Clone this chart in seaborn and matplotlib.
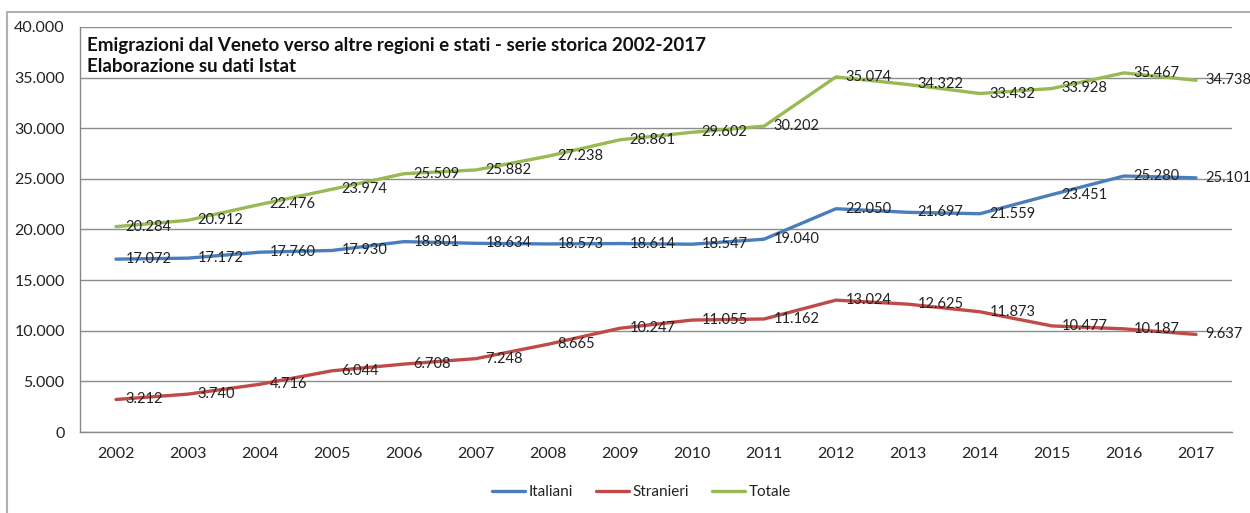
import matplotlib
matplotlib.use("Agg")
import matplotlib.pyplot as plt
import matplotlib.ticker as mticker
from matplotlib.patches import Rectangle
import numpy as np
import pandas as pd
import seaborn as sns

# Emigrations from Veneto, 2002-2017 (Istat)
years = [str(y) for y in range(2002, 2018)]
italiani = [17072, 17172, 17760, 17930, 18801, 18634, 18573, 18614,
            18547, 19040, 22050, 21697, 21559, 23451, 25280, 25101]
stranieri = [3212, 3740, 4716, 6044, 6708, 7248, 8665, 10247,
             11055, 11162, 13024, 12625, 11873, 10477, 10187, 9637]
totale = [20284, 20912, 22476, 23974, 25509, 25882, 27238, 28861,
          29602, 30202, 35074, 34322, 33432, 33928, 35467, 34738]
series_names = ["Italiani", "Stranieri", "Totale"]
colors = {"Italiani": "#4A7EBB", "Stranieri": "#BE4B48", "Totale": "#98B954"}

df = pd.DataFrame({
    "anno": years * 3,
    "pos": list(range(len(years))) * 3,
    "valore": italiani + stranieri + totale,
    "serie": [s for s, vals in zip(series_names, [italiani, stranieri, totale]) for _ in vals],
})

sns.set_theme(style="white")
plt.rcParams["font.family"] = ["Lato", "DejaVu Sans"]

fig = plt.figure(figsize=(12.5, 5.13), dpi=100)
# light frame of the chart area
fig.patches.append(Rectangle((7 / 1250, -0.1), 1.2, 0.1 + (513 - 12) / 513,
                             transform=fig.transFigure, fill=False,
                             edgecolor="#B0B0B0", linewidth=1.5, zorder=0))
ax = fig.add_axes([80 / 1250, (513 - 432) / 513, (1232 - 80) / 1250, (432 - 27) / 513])

sns.lineplot(data=df, x="pos", y="valore", hue="serie", hue_order=series_names,
             palette=colors, linewidth=2.4, ax=ax, legend=True, sort=False)

# value labels to the right of each point
for name, vals in zip(series_names, [italiani, stranieri, totale]):
    for i, v in enumerate(vals):
        ax.annotate(f"{v:,}".replace(",", "."), (i, v), xytext=(7, 0),
                    textcoords="offset points", ha="left", va="center",
                    fontsize=10.5, color="#222222", zorder=5)

ax.set_xlim(-0.5, len(years) - 0.5)
ax.set_ylim(0, 40000)
ax.set_xticks(range(len(years)))
ax.set_xticklabels(years, fontsize=11.5, color="#222222")
ax.set_xticks(np.arange(-0.5, len(years)), minor=True)
ax.tick_params(axis="x", which="major", length=0, pad=11)
ax.tick_params(axis="x", which="minor", length=5, color="#888888", direction="out")
ax.set_yticks(range(0, 40001, 5000))
ax.yaxis.set_major_formatter(mticker.FuncFormatter(lambda v, p: f"{int(v):,}".replace(",", ".")))
ax.tick_params(axis="y", length=5, color="#888888", direction="out", labelsize=11.5,
               labelcolor="#222222", pad=6)
ax.grid(axis="y", color="#8C8C8C", linewidth=1.0)
ax.set_axisbelow(True)
for side in ["top", "right"]:
    ax.spines[side].set_visible(False)
for side in ["left", "bottom"]:
    ax.spines[side].set_color("#888888")
    ax.spines[side].set_linewidth(1.0)
ax.set_xlabel("")
ax.set_ylabel("")

ax.text(0.006, 0.975, "Emigrazioni dal Veneto verso altre regioni e stati - serie storica 2002-2017\nElaborazione su dati Istat",
        transform=ax.transAxes, ha="left", va="top", fontsize=13.5, fontweight="bold",
        color="#111111", linespacing=1.3)

leg = ax.legend(loc="center", bbox_to_anchor=(0.487, -0.148), ncol=3, frameon=False,
                fontsize=11, handlelength=2.2, handletextpad=0.2, columnspacing=1.5)
for t in leg.get_texts():
    t.set_color("#222222")

fig.savefig("out.png", dpi=100, facecolor="white")
